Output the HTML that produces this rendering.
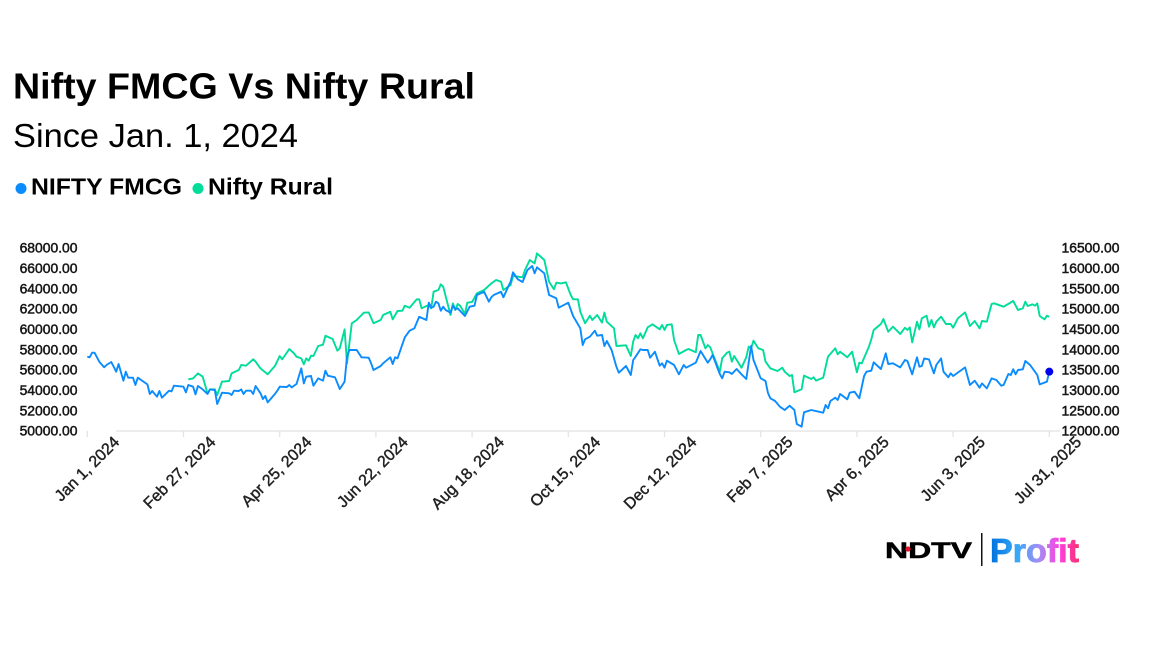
<!DOCTYPE html>
<html lang="en">
<head>
<meta charset="utf-8">
<title>Nifty FMCG Vs Nifty Rural</title>
<style>
html,body{margin:0;padding:0;background:#fff;width:1152px;height:648px;overflow:hidden}
svg{display:block;font-family:"Liberation Sans",Arial,sans-serif}
.ytick{font-size:13.9px;fill:#161616;stroke:#161616;stroke-width:.5px}
.xtick{font-size:16px;fill:#222;stroke:#222;stroke-width:.45px}
</style>
</head>
<body>
<svg id="chart" xmlns="http://www.w3.org/2000/svg" width="1152" height="648" viewBox="0 0 1152 648">
  <defs>
    <linearGradient id="profitGrad" x1="990" x2="1079" y1="0" y2="0" gradientUnits="userSpaceOnUse">
      <stop offset="0" stop-color="#0070dc"/>
      <stop offset=".3" stop-color="#35a8f8"/>
      <stop offset=".55" stop-color="#a58cf5"/>
      <stop offset=".78" stop-color="#ff40e0"/>
      <stop offset="1" stop-color="#f83070"/>
    </linearGradient>
  </defs>
  <rect width="1152" height="648" fill="#fff"/>
  <text x="13" y="98.5" font-size="36" font-weight="bold" fill="#000" textLength="462" lengthAdjust="spacingAndGlyphs">Nifty FMCG Vs Nifty Rural</text>
  <text x="13" y="147" font-size="33" fill="#000" textLength="285" lengthAdjust="spacingAndGlyphs">Since Jan. 1, 2024</text>
  <g>
    <circle cx="21" cy="188.5" r="5.5" fill="#0a8cff"/>
    <text x="31" y="194.5" font-size="23" font-weight="bold" fill="#000" textLength="151" lengthAdjust="spacingAndGlyphs">NIFTY FMCG</text>
    <circle cx="198" cy="188.5" r="5.5" fill="#00dc9a"/>
    <text x="208" y="194.5" font-size="23" font-weight="bold" fill="#000" textLength="125" lengthAdjust="spacingAndGlyphs">Nifty Rural</text>
  </g>
  <g id="xaxis"></g>
  <g id="yleft"></g>
  <g id="yright"></g>
  <g id="series"></g>
  <g>
    <text x="885" y="558" font-size="22" font-weight="bold" fill="#000" stroke="#000" stroke-width=".5" textLength="87" lengthAdjust="spacingAndGlyphs">NDTV</text>
    <circle cx="908" cy="549" r="2.6" fill="#e8102a"/>
    <rect x="981" y="533" width="1.5" height="33" fill="#111"/>
    <text x="990" y="562" font-size="33" font-weight="bold" fill="url(#profitGrad)" stroke="url(#profitGrad)" stroke-width=".8" textLength="89" lengthAdjust="spacingAndGlyphs">Profit</text>
  </g>
</svg>
<script>
const xTickLabels = ["Jan 1, 2024","Feb 27, 2024","Apr 25, 2024","Jun 22, 2024","Aug 18, 2024","Oct 15, 2024","Dec 12, 2024","Feb 7, 2025","Apr 6, 2025","Jun 3, 2025","Jul 31, 2025"];
const xTickDays = [0,40,80,120,160,200,240,280,320,360,400];
const leftTicks = [50000,52000,54000,56000,58000,60000,62000,64000,66000,68000];
const rightTicks = [12000,12500,13000,13500,14000,14500,15000,15500,16000,16500];

const fmcgDays = [0,1,2,3,5,7,8,10,12,13,15,16,17,19,20,21,25,26,27,29,30,31,34,35,36,40,41,42,44,45,46,48,50,51,53,54,56,59,60,61,63,64,65,66,68,69,70,72,73,74,75,78,79,80,83,84,85,87,
89,90,91,93,94,96,98,99,100,103,105,107,108,109,112,114,117,118,119,122,123,126,127,128,129,132,134,136,138,141,142,143,144,145,146,147,148,149,151,152,153,154,157,159,161,162,165,167,168,169,172,173,175,176,177,179,181,183,185,186,187,190,192,195,196,200,202,205,206,207,209,
211,212,214,215,216,218,220,221,224,226,227,228,230,231,233,234,236,238,239,240,241,244,246,248,249,253,255,258,259,260,263,264,265,267,268,270,272,274,276,277,280,282,283,284,286,288,290,292,294,295,297,298,301,306,307,308,309,311,312,313,316,317,319,321,323,324,
326,327,330,332,333,335,338,340,341,343,345,346,347,348,350,351,352,353,355,356,358,359,360,365,367,369,371,372,374,376,378,380,381,383,384,385,386,387,389,390,392,393,395,396,399,400];
const fmcgValues = [57281,57215,57674,57674,56789,56232,56461,56756,55805,56559,54920,55805,55215,55215,54493,55215,54559,53608,53903,53346,53903,53247,53936,53870,54428,54330,53772,54493,54330,53575,54395,54067,53608,54067,54002,52624,53739,53674,53510,53936,53903,54067,53608,53936,53936,53608,54395,53674,53116,53411,52788,53608,53936,54330,54297,54493,54263,54592,
56132,54657,55313,55379,54428,55149,54919,55903,55411,55248,54100,54821,57281,57936,57936,57215,57182,56625,55969,56362,56625,57215,56559,57215,57116,59182,59838,60068,61215,60887,62592,62100,62199,62691,62527,61806,62199,61871,61609,62297,61937,62035,61281,62199,62297,63347,63674,62691,63117,63347,63674,63117,64166,64658,65576,64888,64625,65806,66199,65478,66068,65478,63347,63019,62100,62592,61281,60068,58428,58986,59248,
59839,59347,59413,58331,58823,57937,56298,55708,56363,55478,56954,57282,58003,57937,57937,57183,57774,56396,56626,56200,56888,56462,55544,56462,56200,56692,57839,56692,57020,57446,55577,55150,55806,55740,55577,56068,55544,55085,58331,56954,55150,54888,53740,53183,52921,52363,52035,52462,52035,50658,50396,51806,52035,51773,52527,52199,52920,53249,53019,53610,53085,53740,53839,53183,55380,55806,
55903,56723,56068,57609,56559,56625,56231,56953,56855,55543,57215,56297,56362,57116,57018,56297,55641,56461,57116,55805,55248,55641,55379,56231,54493,54919,54231,54657,54165,55149,54985,54428,54493,55576,55477,56035,55543,55969,56035,56854,56461,56133,55477,54559,54821,55805];

const ruralDays = [42,44,46,48,50,51,53,54,56,59,60,63,64,66,69,70,72,75,78,79,80,81,82,84,86,87,89,90,91,92,93,94,96,98,99,102,104,105,107,108,109,110,112,115,117,119,122,123,126,127,129,131,132,134,137,138,139,142,143,144,146,147,148,151,152,153,154,155,157,158,160,162,165,168,170,172,173,176,177,181,182,184,186,187,190,192,194,195,197,199,201,202,
204,205,207,209,210,212,214,215,216,219,220,224,226,227,228,229,230,231,233,235,238,239,240,241,243,244,246,249,250,253,254,255,257,258,259,263,264,266,267,268,269,272,274,275,276,277,279,281,282,284,287,289,290,292,293,294,297,298,301,302,303,306,308,311,312,
313,316,318,320,321,322,325,326,327,330,331,333,335,338,340,341,342,343,345,346,347,349,350,351,352,353,355,357,359,360,362,365,367,369,371,372,374,376,377,381,385,387,389,390,391,393,394,395,396,398,399,400];
const ruralValues = [13263,13287,13410,13328,12918,13017,13017,12877,13205,13222,13410,13492,13615,13599,13755,13697,13533,13386,13591,13714,13836,13755,13836,14009,13902,13820,13779,13632,13779,13722,13845,13836,14082,14115,14336,14254,13968,14025,14492,13656,14148,14640,14722,14902,14910,14640,14722,14845,14927,14738,14943,14951,15074,15025,15230,15230,15009,15090,15009,15418,15459,15599,15541,14845,15131,14968,15115,15074,14869,15148,15164,15377,15459,15623,15705,15664,15459,15582,15804,15771,15951,16197,16115,16361,16197,15664,15476,15640,15623,15648,15336,15230,
15231,14927,14640,14829,14722,14845,14657,14903,14681,14517,14083,14099,13837,14190,14354,14272,14395,14272,14542,14616,14493,14600,14476,14600,14616,14231,13886,13985,14009,13927,14354,14354,14026,14108,14050,13452,13780,13919,13944,13698,13837,13550,13804,14067,14026,14214,14026,13985,13698,13534,13468,13550,13452,13345,13370,12944,13018,13354,13272,13313,13231,13304,13821,14026,13878,
13943,13804,13943,13435,13672,13656,14066,14246,14476,14623,14746,14435,14558,14377,14533,14476,14541,14172,14681,14492,14763,14828,14558,14722,14541,14681,14804,14623,14623,14533,14763,14910,14574,14697,14517,14697,14681,15115,15132,15050,15189,14968,15009,15173,15066,15107,15074,15131,14820,14738,14828,14804];

const NS = "http://www.w3.org/2000/svg";
function xScale(day){ return 87.3 + day * (962 / 400); }
function yLeft(v){ return 430.7 - (v - 50000) / 18000 * 183; }
function yRight(v){ return 430.7 - (v - 12000) / 4500 * 183; }
function linePath(days, values, yFn){
  return days.map((d, i) => (i ? "L" : "M") + xScale(d).toFixed(1) + " " + yFn(values[i]).toFixed(1)).join("");
}

const xaxis = document.getElementById("xaxis");
const axisLine = document.createElementNS(NS, "line");


axisLine.setAttribute("x1", xScale(12));
axisLine.setAttribute("x2", xScale(404.5));
axisLine.setAttribute("y1", 431);
axisLine.setAttribute("y2", 431);
axisLine.setAttribute("stroke", "#e2e2e2");
axisLine.setAttribute("stroke-width", "1.2");
xaxis.appendChild(axisLine);

xTickDays.forEach((d, i) => {
  const tick = document.createElementNS(NS, "line");
  
  
  tick.setAttribute("x1", xScale(d));
  tick.setAttribute("x2", xScale(d));
  tick.setAttribute("y1", 431);
  tick.setAttribute("y2", 437);
  tick.setAttribute("stroke", "#e2e2e2");
  tick.setAttribute("stroke-width", "1.2");
  xaxis.appendChild(tick);
  const label = document.createElementNS(NS, "text");
  
  
  const lx = xScale(d) + 33;
  const ly = 443;
  label.setAttribute("class", "xtick");
  label.setAttribute("x", lx);
  label.setAttribute("y", ly);
  label.setAttribute("text-anchor", "end");
  label.setAttribute("transform", "rotate(-45 " + lx + " " + ly + ")");
  label.textContent = xTickLabels[i];
  xaxis.appendChild(label);
});

const yleft = document.getElementById("yleft");
leftTicks.forEach(v => {
  const label = document.createElementNS(NS, "text");
  
  
  label.setAttribute("class", "ytick");
  label.setAttribute("x", 77.5);
  label.setAttribute("y", yLeft(v) + 5);
  label.setAttribute("text-anchor", "end");
  label.textContent = v.toFixed(2);
  yleft.appendChild(label);
});

const yright = document.getElementById("yright");
rightTicks.forEach(v => {
  const label = document.createElementNS(NS, "text");
  
  
  label.setAttribute("class", "ytick");
  label.setAttribute("x", 1061.5);
  label.setAttribute("y", yRight(v) + 5);
  label.textContent = v.toFixed(2);
  yright.appendChild(label);
});

const series = document.getElementById("series");
const ruralLine = document.createElementNS(NS, "path");


ruralLine.setAttribute("d", linePath(ruralDays, ruralValues, yRight));
ruralLine.setAttribute("fill", "none");
ruralLine.setAttribute("stroke", "#00dc9a");
ruralLine.setAttribute("stroke-width", "1.9");
ruralLine.setAttribute("stroke-linejoin", "round");
series.appendChild(ruralLine);

const fmcgLine = document.createElementNS(NS, "path");


fmcgLine.setAttribute("d", linePath(fmcgDays, fmcgValues, yLeft));
fmcgLine.setAttribute("fill", "none");
fmcgLine.setAttribute("stroke", "#0a8cff");
fmcgLine.setAttribute("stroke-width", "1.9");
fmcgLine.setAttribute("stroke-linejoin", "round");
series.appendChild(fmcgLine);

const endDot = document.createElementNS(NS, "circle");


endDot.setAttribute("cx", xScale(fmcgDays[fmcgDays.length - 1]));
endDot.setAttribute("cy", yLeft(fmcgValues[fmcgValues.length - 1]));
endDot.setAttribute("r", 4);
endDot.setAttribute("fill", "#0000ee");
series.appendChild(endDot);
</script>
</body>
</html>
